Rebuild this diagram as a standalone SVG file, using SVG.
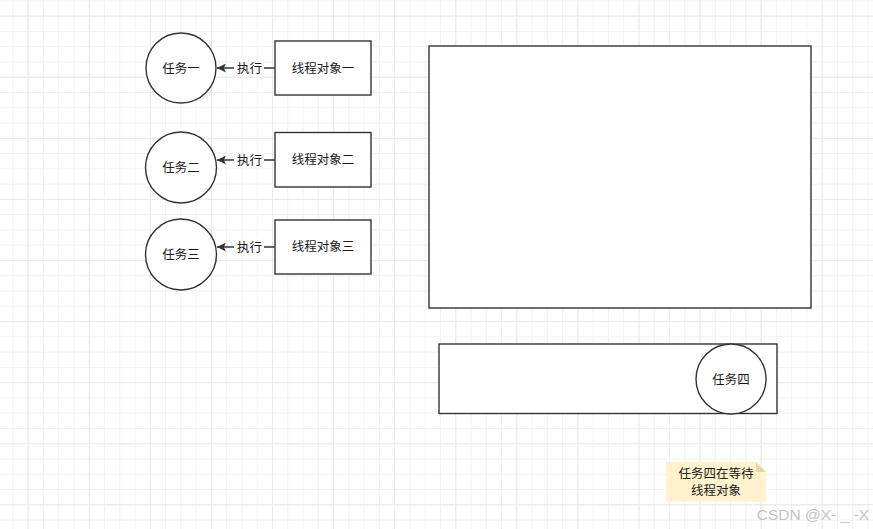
<svg xmlns="http://www.w3.org/2000/svg" width="873" height="529" viewBox="0 0 873 529">
  <style>
    .shape { fill: #ffffff; stroke: #333333; stroke-width: 1.4; }
    .txt { font-family: "Liberation Sans", "Noto Sans CJK SC", sans-serif; font-size: 12.5px; fill: #1a1a1a; text-anchor: middle; dominant-baseline: central; }
    .edge { stroke: #333333; stroke-width: 1.4; fill: none; }
    .lbl { fill: #ffffff; }
  </style>
  <defs>
    <pattern id="minor" x="12.4" y="0.4" width="15.27" height="15.27" patternUnits="userSpaceOnUse">
      <path d="M0.5 0 V15.27 M0 0.5 H15.27" stroke="#f1f1f1" stroke-width="1" fill="none"/>
    </pattern>
    <pattern id="major" x="27.7" y="15.7" width="61.08" height="61.08" patternUnits="userSpaceOnUse">
      <path d="M0 0 V61.08 M0 0 H61.08" stroke="#e9e9e9" stroke-width="2" fill="none"/>
    </pattern>
    <marker id="arrow" viewBox="0 0 10 10" refX="10" refY="5" markerWidth="10" markerHeight="9" markerUnits="userSpaceOnUse" orient="auto">
      <path d="M0 0 L10 5 L0 10 L2.5 5 Z" fill="#333333"/>
    </marker>
  </defs>
  <rect width="873" height="529" fill="#ffffff"/>
  <rect width="873" height="529" fill="url(#minor)"/>
  <rect width="873" height="529" fill="url(#major)"/>

  <g id="connectors">
    <g id="edge1">
      <path class="edge" d="M275 68 H217" marker-end="url(#arrow)"/>
      <rect class="lbl" x="234" y="60" width="30" height="16"/>
      <text class="txt" x="249.5" y="68.5">执行</text>
    </g>
    <g id="edge2">
      <path class="edge" d="M275 160 H217" marker-end="url(#arrow)"/>
      <rect class="lbl" x="234" y="152" width="30" height="16"/>
      <text class="txt" x="249.5" y="160.5">执行</text>
    </g>
    <g id="edge3">
      <path class="edge" d="M275 247 H217" marker-end="url(#arrow)"/>
      <rect class="lbl" x="234" y="239" width="30" height="16"/>
      <text class="txt" x="249.5" y="247.5">执行</text>
    </g>
  </g>

  <g id="task1">
    <circle class="shape" cx="181" cy="68" r="35"/>
    <text class="txt" x="181" y="68.5">任务一</text>
  </g>
  <g id="thread1">
    <rect class="shape" x="275" y="41" width="96" height="54"/>
    <text class="txt" x="323" y="68.5">线程对象一</text>
  </g>
  <g id="task2">
    <circle class="shape" cx="181" cy="167.5" r="35.5"/>
    <text class="txt" x="181" y="168">任务二</text>
  </g>
  <g id="thread2">
    <rect class="shape" x="275" y="132.5" width="96" height="54.5"/>
    <text class="txt" x="323" y="160">线程对象二</text>
  </g>
  <g id="task3">
    <circle class="shape" cx="181" cy="254.5" r="35.5"/>
    <text class="txt" x="181" y="255">任务三</text>
  </g>
  <g id="thread3">
    <rect class="shape" x="275" y="220" width="96" height="54"/>
    <text class="txt" x="323" y="247">线程对象三</text>
  </g>

  <g id="pool">
    <rect class="shape" x="429" y="46" width="382" height="262"/>
  </g>
  <g id="queue">
    <rect class="shape" x="439" y="344" width="338" height="69.5"/>
  </g>
  <g id="task4">
    <circle class="shape" cx="731" cy="379" r="35"/>
    <text class="txt" x="731" y="379.5">任务四</text>
  </g>

  <g id="note">
    <path d="M666 462 H756 L766 472 V502 H666 Z" fill="#fff2cc"/>
    <path d="M756 462 V472 H766 Z" fill="#e6d7a7"/>
    <text class="txt" x="716" y="474">任务四在等待</text>
    <text class="txt" x="716" y="490.5">线程对象</text>
  </g>

  <text x="869" y="514" font-family="Liberation Sans, Arial, sans-serif" font-size="15.5" fill="#c4c4c4" text-anchor="end" dominant-baseline="central">CSDN @X- _ -X</text>
</svg>
